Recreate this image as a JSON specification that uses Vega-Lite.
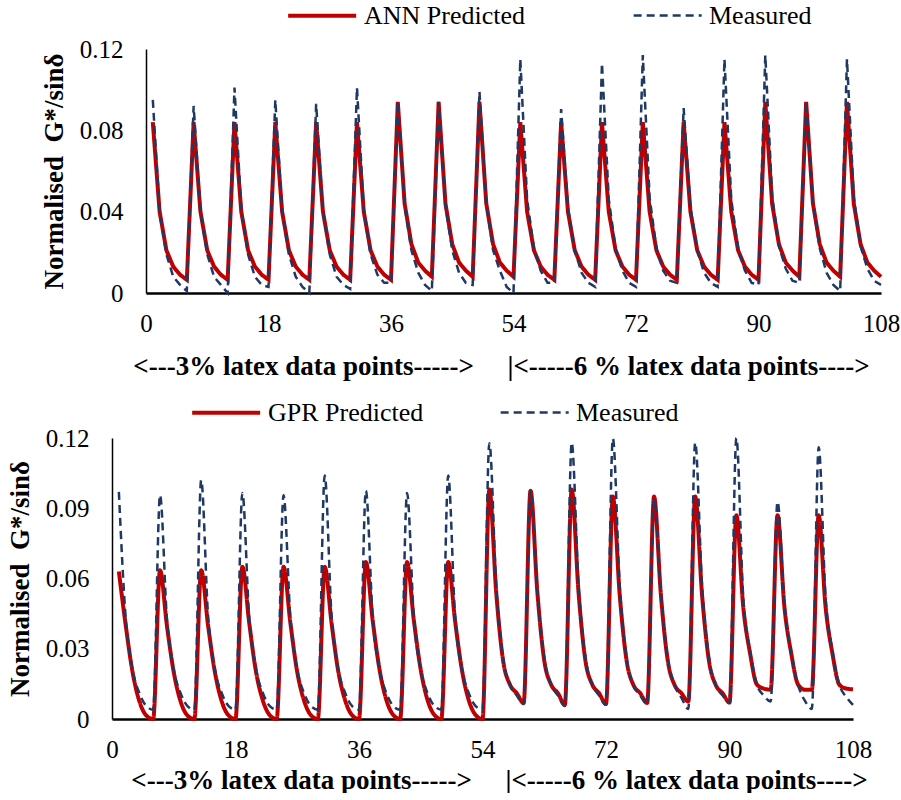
{
  "$schema": "https://vega.github.io/schema/vega-lite/v6.json",
  "padding": {"left": 6, "top": 2, "right": 0, "bottom": 0},
  "config": {
    "font": "Liberation Serif",
    "view": {"stroke": null},
    "axis": {"grid": false, "ticks": false, "tickSize": 0, "domainColor": "#000000", "labelColor": "#000000", "titleColor": "#000000", "labelFont": "Liberation Serif", "titleFont": "Liberation Serif", "labelFontSize": 25, "titleFontSize": 27, "titleFontWeight": "bold", "labelFlush": false, "labelOverlap": false, "labelBound": false},
    "axisX": {"domainWidth": 2.5, "labelPadding": 18, "labelAngle": 0},
    "axisY": {"domainWidth": 1.5, "labelPadding": 23, "titlePadding": 11},
    "legend": {"labelFont": "Liberation Serif", "labelFontSize": 26, "labelColor": "#000000", "labelLimit": 500, "padding": 0}
  },
  "datasets": {
    "ann": [
      {"x":1,"ANN Predicted":0.084,"Measured":0.095},{"x":2,"ANN Predicted":0.040,"Measured":0.040},{"x":3,"ANN Predicted":0.021,"Measured":0.019},{"x":4,"ANN Predicted":0.013,"Measured":0.008},{"x":5,"ANN Predicted":0.009,"Measured":0.004},{"x":6,"ANN Predicted":0.0065,"Measured":0.001},
      {"x":7,"ANN Predicted":0.084,"Measured":0.092},{"x":8,"ANN Predicted":0.040,"Measured":0.040},{"x":9,"ANN Predicted":0.021,"Measured":0.019},{"x":10,"ANN Predicted":0.013,"Measured":0.008},{"x":11,"ANN Predicted":0.009,"Measured":0.004},{"x":12,"ANN Predicted":0.0065,"Measured":0.000},
      {"x":13,"ANN Predicted":0.084,"Measured":0.101},{"x":14,"ANN Predicted":0.040,"Measured":0.041},{"x":15,"ANN Predicted":0.021,"Measured":0.019},{"x":16,"ANN Predicted":0.013,"Measured":0.008},{"x":17,"ANN Predicted":0.009,"Measured":0.004},{"x":18,"ANN Predicted":0.0065,"Measured":0.003},
      {"x":19,"ANN Predicted":0.084,"Measured":0.095},{"x":20,"ANN Predicted":0.040,"Measured":0.040},{"x":21,"ANN Predicted":0.021,"Measured":0.019},{"x":22,"ANN Predicted":0.013,"Measured":0.008},{"x":23,"ANN Predicted":0.009,"Measured":0.003},{"x":24,"ANN Predicted":0.0065,"Measured":0.000},
      {"x":25,"ANN Predicted":0.084,"Measured":0.093},{"x":26,"ANN Predicted":0.040,"Measured":0.040},{"x":27,"ANN Predicted":0.021,"Measured":0.019},{"x":28,"ANN Predicted":0.013,"Measured":0.008},{"x":29,"ANN Predicted":0.009,"Measured":0.004},{"x":30,"ANN Predicted":0.0065,"Measured":0.002},
      {"x":31,"ANN Predicted":0.084,"Measured":0.101},{"x":32,"ANN Predicted":0.040,"Measured":0.041},{"x":33,"ANN Predicted":0.021,"Measured":0.019},{"x":34,"ANN Predicted":0.013,"Measured":0.009},{"x":35,"ANN Predicted":0.009,"Measured":0.005},{"x":36,"ANN Predicted":0.0065,"Measured":0.005},
      {"x":37,"ANN Predicted":0.094,"Measured":0.094},{"x":38,"ANN Predicted":0.044,"Measured":0.043},{"x":39,"ANN Predicted":0.024,"Measured":0.021},{"x":40,"ANN Predicted":0.015,"Measured":0.010},{"x":41,"ANN Predicted":0.011,"Measured":0.004},{"x":42,"ANN Predicted":0.008,"Measured":0.001},
      {"x":43,"ANN Predicted":0.094,"Measured":0.094},{"x":44,"ANN Predicted":0.044,"Measured":0.043},{"x":45,"ANN Predicted":0.024,"Measured":0.021},{"x":46,"ANN Predicted":0.015,"Measured":0.010},{"x":47,"ANN Predicted":0.011,"Measured":0.005},{"x":48,"ANN Predicted":0.008,"Measured":0.004},
      {"x":49,"ANN Predicted":0.094,"Measured":0.099},{"x":50,"ANN Predicted":0.044,"Measured":0.044},{"x":51,"ANN Predicted":0.024,"Measured":0.021},{"x":52,"ANN Predicted":0.015,"Measured":0.011},{"x":53,"ANN Predicted":0.011,"Measured":0.003},{"x":54,"ANN Predicted":0.008,"Measured":0.000},
      {"x":55,"ANN Predicted":0.084,"Measured":0.115},{"x":56,"ANN Predicted":0.040,"Measured":0.046},{"x":57,"ANN Predicted":0.021,"Measured":0.022},{"x":58,"ANN Predicted":0.013,"Measured":0.011},{"x":59,"ANN Predicted":0.009,"Measured":0.005},{"x":60,"ANN Predicted":0.0065,"Measured":0.005},
      {"x":61,"ANN Predicted":0.084,"Measured":0.0905},{"x":62,"ANN Predicted":0.040,"Measured":0.042},{"x":63,"ANN Predicted":0.021,"Measured":0.021},{"x":64,"ANN Predicted":0.013,"Measured":0.010},{"x":65,"ANN Predicted":0.009,"Measured":0.005},{"x":66,"ANN Predicted":0.0065,"Measured":0.003},
      {"x":67,"ANN Predicted":0.084,"Measured":0.113},{"x":68,"ANN Predicted":0.040,"Measured":0.046},{"x":69,"ANN Predicted":0.021,"Measured":0.022},{"x":70,"ANN Predicted":0.013,"Measured":0.011},{"x":71,"ANN Predicted":0.009,"Measured":0.005},{"x":72,"ANN Predicted":0.0065,"Measured":0.003},
      {"x":73,"ANN Predicted":0.084,"Measured":0.117},{"x":74,"ANN Predicted":0.040,"Measured":0.047},{"x":75,"ANN Predicted":0.021,"Measured":0.022},{"x":76,"ANN Predicted":0.013,"Measured":0.011},{"x":77,"ANN Predicted":0.009,"Measured":0.006},{"x":78,"ANN Predicted":0.0065,"Measured":0.005},
      {"x":79,"ANN Predicted":0.084,"Measured":0.091},{"x":80,"ANN Predicted":0.040,"Measured":0.042},{"x":81,"ANN Predicted":0.021,"Measured":0.021},{"x":82,"ANN Predicted":0.013,"Measured":0.010},{"x":83,"ANN Predicted":0.009,"Measured":0.005},{"x":84,"ANN Predicted":0.0065,"Measured":0.003},
      {"x":85,"ANN Predicted":0.084,"Measured":0.115},{"x":86,"ANN Predicted":0.040,"Measured":0.046},{"x":87,"ANN Predicted":0.021,"Measured":0.022},{"x":88,"ANN Predicted":0.013,"Measured":0.011},{"x":89,"ANN Predicted":0.009,"Measured":0.005},{"x":90,"ANN Predicted":0.0065,"Measured":0.004},
      {"x":91,"ANN Predicted":0.094,"Measured":0.117},{"x":92,"ANN Predicted":0.044,"Measured":0.048},{"x":93,"ANN Predicted":0.024,"Measured":0.023},{"x":94,"ANN Predicted":0.015,"Measured":0.012},{"x":95,"ANN Predicted":0.011,"Measured":0.006},{"x":96,"ANN Predicted":0.008,"Measured":0.005},
      {"x":97,"ANN Predicted":0.094,"Measured":0.094},{"x":98,"ANN Predicted":0.044,"Measured":0.044},{"x":99,"ANN Predicted":0.024,"Measured":0.022},{"x":100,"ANN Predicted":0.015,"Measured":0.010},{"x":101,"ANN Predicted":0.011,"Measured":0.004},{"x":102,"ANN Predicted":0.008,"Measured":0.001},
      {"x":103,"ANN Predicted":0.094,"Measured":0.115},{"x":104,"ANN Predicted":0.044,"Measured":0.047},{"x":105,"ANN Predicted":0.024,"Measured":0.023},{"x":106,"ANN Predicted":0.015,"Measured":0.012},{"x":107,"ANN Predicted":0.011,"Measured":0.006},{"x":108,"ANN Predicted":0.008,"Measured":0.004}
    ],
    "gpr": [
      {"x":1,"GPR Predicted":0.063,"Measured":0.097},{"x":2,"GPR Predicted":0.040,"Measured":0.043},{"x":3,"GPR Predicted":0.020,"Measured":0.021},{"x":4,"GPR Predicted":0.0075,"Measured":0.011},{"x":5,"GPR Predicted":0.0015,"Measured":0.0055},{"x":6,"GPR Predicted":0.0,"Measured":0.004},
      {"x":7,"GPR Predicted":0.0635,"Measured":0.0956},{"x":8,"GPR Predicted":0.040,"Measured":0.043},{"x":9,"GPR Predicted":0.020,"Measured":0.021},{"x":10,"GPR Predicted":0.0075,"Measured":0.011},{"x":11,"GPR Predicted":0.0015,"Measured":0.0055},{"x":12,"GPR Predicted":0.0,"Measured":0.004},
      {"x":13,"GPR Predicted":0.0635,"Measured":0.102},{"x":14,"GPR Predicted":0.040,"Measured":0.044},{"x":15,"GPR Predicted":0.020,"Measured":0.021},{"x":16,"GPR Predicted":0.0075,"Measured":0.011},{"x":17,"GPR Predicted":0.0015,"Measured":0.0055},{"x":18,"GPR Predicted":0.0,"Measured":0.004},
      {"x":19,"GPR Predicted":0.065,"Measured":0.0965},{"x":20,"GPR Predicted":0.041,"Measured":0.043},{"x":21,"GPR Predicted":0.020,"Measured":0.021},{"x":22,"GPR Predicted":0.0078,"Measured":0.011},{"x":23,"GPR Predicted":0.0016,"Measured":0.0055},{"x":24,"GPR Predicted":0.0,"Measured":0.004},
      {"x":25,"GPR Predicted":0.065,"Measured":0.0956},{"x":26,"GPR Predicted":0.041,"Measured":0.043},{"x":27,"GPR Predicted":0.020,"Measured":0.021},{"x":28,"GPR Predicted":0.0078,"Measured":0.011},{"x":29,"GPR Predicted":0.0016,"Measured":0.0055},{"x":30,"GPR Predicted":0.0,"Measured":0.004},
      {"x":31,"GPR Predicted":0.065,"Measured":0.104},{"x":32,"GPR Predicted":0.041,"Measured":0.044},{"x":33,"GPR Predicted":0.020,"Measured":0.021},{"x":34,"GPR Predicted":0.0078,"Measured":0.011},{"x":35,"GPR Predicted":0.0016,"Measured":0.0055},{"x":36,"GPR Predicted":0.0,"Measured":0.004},
      {"x":37,"GPR Predicted":0.067,"Measured":0.0975},{"x":38,"GPR Predicted":0.042,"Measured":0.043},{"x":39,"GPR Predicted":0.021,"Measured":0.021},{"x":40,"GPR Predicted":0.008,"Measured":0.011},{"x":41,"GPR Predicted":0.0017,"Measured":0.0055},{"x":42,"GPR Predicted":0.0,"Measured":0.004},
      {"x":43,"GPR Predicted":0.067,"Measured":0.0965},{"x":44,"GPR Predicted":0.042,"Measured":0.043},{"x":45,"GPR Predicted":0.021,"Measured":0.021},{"x":46,"GPR Predicted":0.008,"Measured":0.011},{"x":47,"GPR Predicted":0.0017,"Measured":0.0055},{"x":48,"GPR Predicted":0.0,"Measured":0.004},
      {"x":49,"GPR Predicted":0.067,"Measured":0.104},{"x":50,"GPR Predicted":0.042,"Measured":0.044},{"x":51,"GPR Predicted":0.021,"Measured":0.021},{"x":52,"GPR Predicted":0.008,"Measured":0.011},{"x":53,"GPR Predicted":0.0017,"Measured":0.0055},{"x":54,"GPR Predicted":0.0,"Measured":0.004},
      {"x":55,"GPR Predicted":0.098,"Measured":0.1178},{"x":56,"GPR Predicted":0.054,"Measured":0.057},{"x":57,"GPR Predicted":0.025,"Measured":0.026},{"x":58,"GPR Predicted":0.0147,"Measured":0.0147},{"x":59,"GPR Predicted":0.011,"Measured":0.010},{"x":60,"GPR Predicted":0.0068,"Measured":0.0064},
      {"x":61,"GPR Predicted":0.0975,"Measured":0.0975},{"x":62,"GPR Predicted":0.054,"Measured":0.054},{"x":63,"GPR Predicted":0.025,"Measured":0.026},{"x":64,"GPR Predicted":0.0147,"Measured":0.0147},{"x":65,"GPR Predicted":0.011,"Measured":0.010},{"x":66,"GPR Predicted":0.0061,"Measured":0.0055},
      {"x":67,"GPR Predicted":0.098,"Measured":0.118},{"x":68,"GPR Predicted":0.054,"Measured":0.057},{"x":69,"GPR Predicted":0.025,"Measured":0.026},{"x":70,"GPR Predicted":0.0147,"Measured":0.0147},{"x":71,"GPR Predicted":0.011,"Measured":0.010},{"x":72,"GPR Predicted":0.0064,"Measured":0.006},
      {"x":73,"GPR Predicted":0.095,"Measured":0.1197},{"x":74,"GPR Predicted":0.053,"Measured":0.057},{"x":75,"GPR Predicted":0.025,"Measured":0.026},{"x":76,"GPR Predicted":0.0145,"Measured":0.0145},{"x":77,"GPR Predicted":0.011,"Measured":0.010},{"x":78,"GPR Predicted":0.0068,"Measured":0.0065},
      {"x":79,"GPR Predicted":0.095,"Measured":0.094},{"x":80,"GPR Predicted":0.053,"Measured":0.053},{"x":81,"GPR Predicted":0.025,"Measured":0.026},{"x":82,"GPR Predicted":0.0145,"Measured":0.0145},{"x":83,"GPR Predicted":0.011,"Measured":0.009},{"x":84,"GPR Predicted":0.0075,"Measured":0.0043},
      {"x":85,"GPR Predicted":0.095,"Measured":0.118},{"x":86,"GPR Predicted":0.053,"Measured":0.057},{"x":87,"GPR Predicted":0.025,"Measured":0.026},{"x":88,"GPR Predicted":0.0145,"Measured":0.0145},{"x":89,"GPR Predicted":0.011,"Measured":0.010},{"x":90,"GPR Predicted":0.007,"Measured":0.0068},
      {"x":91,"GPR Predicted":0.087,"Measured":0.12},{"x":92,"GPR Predicted":0.048,"Measured":0.052},{"x":93,"GPR Predicted":0.028,"Measured":0.029},{"x":94,"GPR Predicted":0.0147,"Measured":0.0147},{"x":95,"GPR Predicted":0.013,"Measured":0.010},{"x":96,"GPR Predicted":0.0125,"Measured":0.0075},
      {"x":97,"GPR Predicted":0.087,"Measured":0.0928},{"x":98,"GPR Predicted":0.048,"Measured":0.049},{"x":99,"GPR Predicted":0.028,"Measured":0.028},{"x":100,"GPR Predicted":0.0147,"Measured":0.0145},{"x":101,"GPR Predicted":0.0125,"Measured":0.0077},{"x":102,"GPR Predicted":0.0125,"Measured":0.0043},
      {"x":103,"GPR Predicted":0.087,"Measured":0.116},{"x":104,"GPR Predicted":0.048,"Measured":0.052},{"x":105,"GPR Predicted":0.028,"Measured":0.029},{"x":106,"GPR Predicted":0.0147,"Measured":0.0147},{"x":107,"GPR Predicted":0.013,"Measured":0.0095},{"x":108,"GPR Predicted":0.0127,"Measured":0.006}
    ]
  },
  "vconcat": [
    {
      "hconcat": [
        {
          "width": 1,
          "height": 1,
          "data": {"values": [{"s": 1}]},
          "mark": {"type": "point", "opacity": 0}
        },
        {
          "width": 735,
          "height": 244,
          "data": {"name": "ann"},
          "transform": [{"fold": ["ANN Predicted", "Measured"], "as": ["series", "value"]}],
          "mark": {"type": "line"},
          "encoding": {
            "x": {"field": "x", "type": "quantitative", "scale": {"domain": [0, 108], "nice": false, "zero": false},
                  "axis": {"values": [0, 18, 36, 54, 72, 90, 108], "title": "<---3% latex data points----->\u00a0\u00a0\u00a0\u00a0\u00a0|<-----6 % latex data points---->", "titleX": 355, "titlePadding": 17}},
            "y": {"field": "value", "type": "quantitative", "scale": {"domain": [0, 0.12], "nice": false},
                  "axis": {"values": [0, 0.04, 0.08, 0.12], "format": ".2~g", "title": "Normalised\u00a0\u00a0G*/sinδ"}},
            "color": {"field": "series", "type": "nominal", "scale": {"domain": ["ANN Predicted", "Measured"], "range": ["#C00000", "#1F3864"]},
                      "legend": {"orient": "none", "legendX": 140, "legendY": -47, "direction": "horizontal", "title": null, "symbolType": "M-1,0H5", "symbolSize": 514, "labelOffset": 51, "columnPadding": 102}},
            "strokeDash": {"field": "series", "type": "nominal", "scale": {"domain": ["ANN Predicted", "Measured"], "range": [[1, 0], [8, 5]]},
                      "legend": {"orient": "none", "legendX": 140, "legendY": -47, "direction": "horizontal", "title": null, "symbolType": "M-1,0H5", "symbolSize": 514, "labelOffset": 51, "columnPadding": 102}},
            "strokeWidth": {"field": "series", "type": "ordinal", "scale": {"domain": ["ANN Predicted", "Measured"], "range": [4, 2.5]},
                      "legend": {"orient": "none", "legendX": 140, "legendY": -47, "direction": "horizontal", "title": null, "symbolType": "M-1,0H5", "symbolSize": 514, "labelOffset": 51, "columnPadding": 102}}
          }
        }
      ],
      "spacing": -76,
      "resolve": {
        "scale": {"x": "independent", "y": "independent", "color": "independent", "strokeDash": "independent", "strokeWidth": "independent"},
        "legend": {"color": "independent", "strokeDash": "independent", "strokeWidth": "independent"}
      }
    },
    {
      "width": 741,
      "height": 281,
      "data": {"name": "gpr"},
      "transform": [{"fold": ["GPR Predicted", "Measured"], "as": ["series", "value"]}],
      "mark": {"type": "line", "interpolate": "monotone"},
      "encoding": {
        "x": {"field": "x", "type": "quantitative", "scale": {"domain": [0, 108], "nice": false, "zero": false},
              "axis": {"values": [0, 18, 36, 54, 72, 90, 108], "title": "<---3% latex data points----->\u00a0\u00a0\u00a0\u00a0\u00a0|<-----6 % latex data points---->", "titleX": 387, "titlePadding": 5}},
        "y": {"field": "value", "type": "quantitative", "scale": {"domain": [0, 0.12], "nice": false},
              "axis": {"values": [0, 0.03, 0.06, 0.09, 0.12], "format": ".2~g", "title": "Normalised\u00a0\u00a0G*/sinδ"}},
        "color": {"field": "series", "type": "nominal", "scale": {"domain": ["GPR Predicted", "Measured"], "range": ["#C00000", "#1F3864"]},
                  "legend": {"orient": "none", "legendX": 78, "legendY": -39, "direction": "horizontal", "title": null, "symbolType": "M-1,0H5", "symbolSize": 514, "labelOffset": 51, "columnPadding": 71}},
        "strokeDash": {"field": "series", "type": "nominal", "scale": {"domain": ["GPR Predicted", "Measured"], "range": [[1, 0], [8, 5]]},
                  "legend": {"orient": "none", "legendX": 78, "legendY": -39, "direction": "horizontal", "title": null, "symbolType": "M-1,0H5", "symbolSize": 514, "labelOffset": 51, "columnPadding": 71}},
        "strokeWidth": {"field": "series", "type": "ordinal", "scale": {"domain": ["GPR Predicted", "Measured"], "range": [4, 2.5]},
                  "legend": {"orient": "none", "legendX": 78, "legendY": -39, "direction": "horizontal", "title": null, "symbolType": "M-1,0H5", "symbolSize": 514, "labelOffset": 51, "columnPadding": 71}}
      }
    }
  ],
  "spacing": 20,
  "resolve": {
    "scale": {"x": "independent", "y": "independent", "color": "independent", "strokeDash": "independent", "strokeWidth": "independent"},
    "legend": {"color": "independent", "strokeDash": "independent", "strokeWidth": "independent"}
  }
}
